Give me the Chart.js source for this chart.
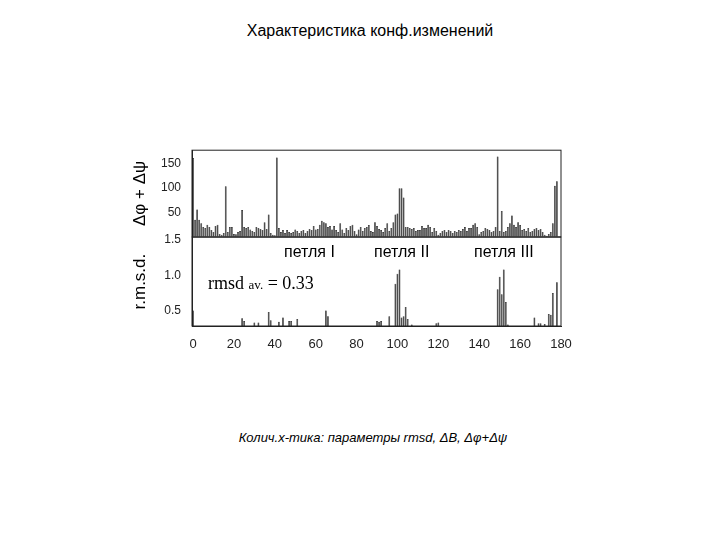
<!DOCTYPE html>
<html><head><meta charset="utf-8">
<script src="https://cdn.jsdelivr.net/npm/chart.js@4"></script>
<style>
body{margin:0;width:720px;height:540px;background:#fff;position:relative;font-family:"Liberation Sans",Arial,sans-serif;overflow:hidden}
canvas{position:absolute}
.t{position:absolute;white-space:nowrap;color:#000}
</style></head><body>
<div class="t" style="left:0;width:740px;text-align:center;top:22px;font-size:16px">Характеристика конф.изменений</div>
<canvas id="top" style="left:130px;top:140px;width:450px;height:107px" width="450" height="107"></canvas>
<canvas id="bot" style="left:130px;top:227px;width:450px;height:139px" width="450" height="139"></canvas>
<div class="t" style="left:284px;top:243px;font-size:16px">петля I</div>
<div class="t" style="left:374px;top:243px;font-size:16px">петля II</div>
<div class="t" style="left:474px;top:243px;font-size:16px">петля III</div>
<div class="t" style="left:208px;top:273px;font-size:18px;font-family:'Liberation Serif',serif">rmsd <span style="font-size:13px">av.</span> = 0.33</div>
<div class="t" style="left:0;width:746px;text-align:center;top:430px;font-size:13px;font-style:italic">Колич.х-тика: параметры rmsd, ΔB, Δφ+Δψ</div>
<script>
// residue index 0..179
const dihedral = [
  162, 35, 56, 35, 28, 20, 18, 25, 20, 14,
  10, 22, 25, 6, 4, 8, 104, 10, 20, 20,
  6, 5, 10, 12, 55, 20, 18, 20, 15, 12,
  10, 20, 18, 16, 14, 30, 16, 46, 8, 4,
  3, 163, 18, 10, 14, 8, 14, 10, 8, 10,
  15, 12, 8, 12, 14, 8, 12, 16, 14, 22,
  15, 16, 25, 33, 30, 28, 20, 22, 15, 22,
  14, 10, 28, 15, 8, 18, 14, 22, 25, 12,
  5, 15, 20, 12, 18, 20, 24, 12, 10, 30,
  22, 16, 14, 10, 18, 28, 12, 18, 30, 46,
  48, 100, 100, 81, 20, 20, 18, 16, 18, 12,
  14, 14, 22, 18, 18, 25, 20, 10, 18, 12,
  4, 8, 12, 14, 10, 14, 12, 8, 12, 10,
  14, 12, 16, 20, 12, 18, 18, 25, 28, 20,
  5, 10, 12, 18, 16, 14, 10, 12, 20, 165,
  12, 53, 10, 12, 20, 28, 44, 25, 20, 30,
  24, 14, 16, 12, 18, 10, 12, 16, 18, 14,
  16, 10, 4, 2, 6, 10, 28, 105, 114, 0
];
const rmsdRes = [0, 24, 25, 30, 32, 37, 38, 42, 44, 47, 48, 51, 65, 66, 90, 91, 92, 96, 99, 100, 101, 102, 103, 104, 105, 107, 119, 120, 149, 150, 151, 152, 153, 154, 167, 169, 170, 172, 174, 175, 176, 178];
const rmsdVal = [0.5, 0.39, 0.35, 0.33, 0.33, 0.48, 0.36, 0.34, 0.4, 0.35, 0.35, 0.38, 0.5, 0.42, 0.35, 0.34, 0.35, 0.42, 0.88, 1.02, 1.08, 0.4, 0.42, 0.55, 0.38, 0.3, 0.32, 0.33, 0.8, 0.98, 0.73, 1.08, 0.62, 0.3, 0.4, 0.32, 0.32, 0.31, 0.45, 0.44, 0.75, 0.9];

const font = { family: 'Liberation Sans', size: 12 };
const frame = {
  id: 'frame',
  afterDraw(c) {
    const a = c.chartArea, x = c.ctx;
    x.save(); x.strokeStyle = '#222'; x.lineWidth = 1;
    x.strokeRect(a.left, a.top, a.right - a.left, a.bottom - a.top);
    x.restore();
  }
};
const fixW = s => { s.width = 62; };
const bars = { backgroundColor: '#333', borderColor: '#000', borderWidth: 0.5, barPercentage: 0.9, categoryPercentage: 1 };

new Chart(document.getElementById('top'), {
  type: 'bar',
  data: { datasets: [Object.assign({ data: dihedral.map((v, i) => ({ x: i, y: v })) }, bars)] },
  options: {
    responsive: false, animation: false,
    layout: { padding: { top: 10, right: 19, bottom: 0, left: 0 } },
    plugins: { legend: { display: false }, tooltip: { enabled: false } },
    scales: {
      x: { type: 'linear', min: -0.5, max: 180, offset: false, display: false },
      y: { min: 0, max: 178, afterFit: fixW, grid: { display: false }, border: { color: '#222' },
        afterBuildTicks: s => { s.ticks = [50, 100, 150].map(v => ({ value: v })); },
        ticks: { color: '#222', font },
        title: { display: true, text: 'Δφ + Δψ', color: '#000', font: { family: 'Liberation Sans', size: 17 }, padding: 0 } }
    }
  },
  plugins: [frame]
});

new Chart(document.getElementById('bot'), {
  type: 'bar',
  data: { datasets: [Object.assign({ data: rmsdRes.map((r, i) => ({ x: r, y: rmsdVal[i] })) }, bars)] },
  options: {
    responsive: false, animation: false,
    layout: { padding: { top: 1, right: 19, bottom: 0, left: 0 } },
    plugins: { legend: { display: false }, tooltip: { enabled: false } },
    scales: {
      x: { type: 'linear', min: -0.5, max: 180, offset: false, afterFit: s => { s.height = 40; }, grid: { display: false }, border: { color: '#222' },
        afterBuildTicks: s => { s.ticks = [0, 20, 40, 60, 80, 100, 120, 140, 160, 180].map(v => ({ value: v })); },
        ticks: { color: '#222', font: { family: 'Liberation Sans', size: 13 } } },
      y: { min: 0.28, max: 1.54, afterFit: fixW, grid: { display: false }, border: { color: '#222' },
        afterBuildTicks: s => { s.ticks = [0.5, 1.0, 1.5].map(v => ({ value: v })); },
        ticks: { color: '#222', font, callback: v => v.toFixed(1) },
        title: { display: true, text: 'r.m.s.d.', color: '#000', font: { family: 'Liberation Sans', size: 17 }, padding: 0 } }
    }
  },
  plugins: [frame]
});
</script>
</body></html>
